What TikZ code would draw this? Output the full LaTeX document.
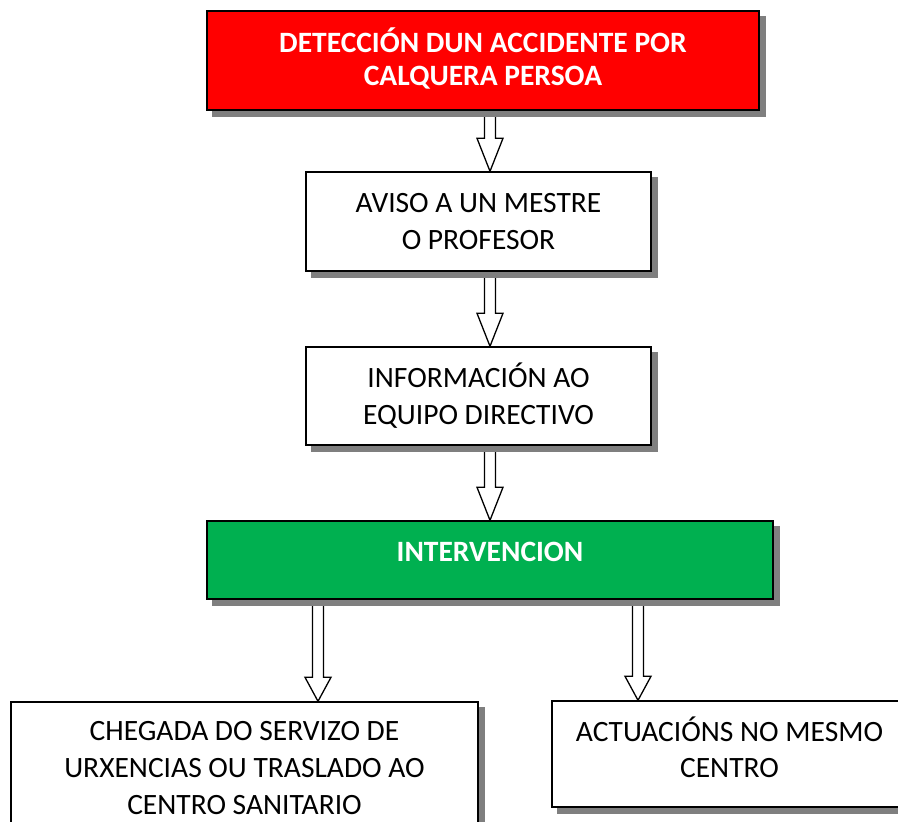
\documentclass[tikz,border=0pt]{standalone}
\usepackage{fontspec}
\setmainfont{Carlito}
\usetikzlibrary{calc,backgrounds}
\definecolor{boxred}{HTML}{FF0000}
\definecolor{boxgreen}{HTML}{00B050}
\definecolor{shadowgray}{HTML}{7F7F7F}
\tikzset{
  box/.style={draw=black, line width=1.4pt, fill=white, inner sep=0pt, align=center,
     font=\fontsize{29.5}{37}\selectfont},
  headbox/.style={box, text=white, font=\fontsize{29.5}{33}\selectfont\bfseries},
  txt/.style={inner sep=0pt, align=center, font=\fontsize{29.5}{36}\selectfont},
  headtxt/.style={txt, text=white, font=\fontsize{29.5}{33}\selectfont\bfseries},
  shade/.style={fill=shadowgray, draw=none},
  barrow/.style={draw=black, line width=1.3pt, fill=white, line join=miter},
}
\newcommand\blockarr[3]{%
  \draw[barrow] let \p1=(#1), \p2=(#2) in
    (\x2-5.5,\y1) -- (\x2-5.5,\y2+#3) -- (\x2-13,\y2+#3) -- (\x2,\y2) --
    (\x2+13,\y2+#3) -- (\x2+5.5,\y2+#3) -- (\x2+5.5,\y1) -- cycle;}
\newcommand\boxshade[1]{%
  \fill[shade] ($(#1.south west)+(6,-6)$) rectangle ($(#1.north east)+(6,-6)$);}
\begin{document}
\begin{tikzpicture}[x=1pt,y=1pt]
\useasboundingbox (0,0) rectangle (898,822);
% nodes (y = 822 - pixel y)
\node[headbox, fill=boxred, minimum width=552, minimum height=99] (det) at (483,761.5) {};
\node[headtxt] (dett) at ([yshift=2.5]det.center)
  {DETECCIÓN DUN ACCIDENTE POR\\CALQUERA PERSOA};
\node[box, minimum width=345, minimum height=99] (aviso) at (478.5,600.5)
  {AVISO A UN MESTRE\\O PROFESOR};
\node[box, minimum width=345, minimum height=98] (info) at (478.5,426)
  {INFORMACIÓN AO\\EQUIPO DIRECTIVO};
\node[headbox, fill=boxgreen, minimum width=566, minimum height=78] (int) at (490,262) {};
\node[headtxt] (intt) at ([yshift=8]int.center) {INTERVENCION};
\node[box, minimum width=467, minimum height=132] (cheg) at (244.5,54)
  {CHEGADA DO SERVIZO DE\\URXENCIAS OU TRASLADO AO\\CENTRO SANITARIO};
\node[box, minimum width=355, minimum height=106] (act) at (729.5,68) {};
\node[txt] (actt) at ([yshift=7]act.center) {ACTUACIÓNS NO MESMO\\CENTRO};
% arrow start points
\coordinate (a1s) at (490,712);
\coordinate (a2s) at (490,551);
\coordinate (a3s) at (490,377);
\coordinate (a4s) at (318,224);
\coordinate (a5s) at (638,224);
\begin{scope}[on background layer]
  \blockarr{a1s}{aviso.north -| a1s}{33}
  \blockarr{a2s}{info.north -| a2s}{33}
  \blockarr{a3s}{int.north -| a3s}{33}
  \blockarr{a4s}{cheg.north -| a4s}{24}
  \blockarr{a5s}{act.north -| a5s}{24}
  \boxshade{det}
  \boxshade{aviso}
  \boxshade{info}
  \boxshade{int}
  \boxshade{cheg}
  \boxshade{act}
\end{scope}
\end{tikzpicture}
\end{document}
